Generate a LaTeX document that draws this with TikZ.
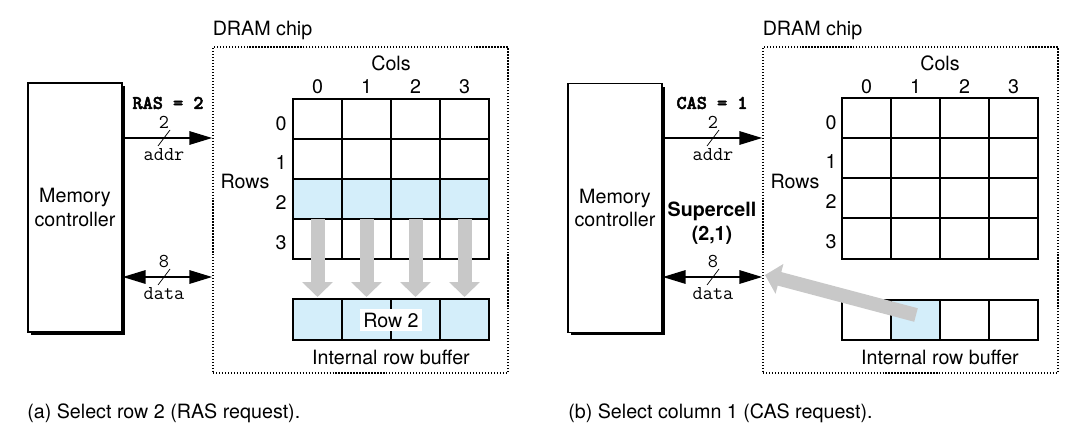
\documentclass[tikz,border=0pt]{standalone}
\usepackage{fontspec}
\setmainfont{TeX Gyre Heros}
\newfontfamily\rastt{lmmonolt10-bold.otf}[FakeBold=2.5]
\usetikzlibrary{arrows.meta,positioning,shadows}
\definecolor{cellblue}{RGB}{212,238,250}
\definecolor{movegray}{RGB}{200,200,200}

\tikzset{
  ctrl/.style={draw, line width=0.6pt, fill=white, align=center,
    minimum width=1.88cm, minimum height=4.98cm,
    drop shadow={shadow xshift=0.06cm, shadow yshift=-0.06cm, opacity=1, fill=black}},
  chipbox/.style={draw, densely dotted, line width=0.7pt,
    minimum width=5.9cm, minimum height=6.52cm},
  bus/.style={line width=1.7pt, -{Triangle[length=0.46cm,width=0.26cm]}},
  dbus/.style={line width=1.7pt, {Triangle[length=0.46cm,width=0.26cm]}-{Triangle[length=0.46cm,width=0.26cm]}},
  buslbl/.style={font=\fontsize{11.2}{13}\ttfamily, inner sep=1pt},
  reqlbl/.style={font=\fontsize{11}{13}\rastt},
  moveline/.style={movegray, line width=0.28cm, -{Triangle[length=0.3cm,width=0.6cm]}},
  gridline/.style={line width=0.6pt},
  gridframe/.style={line width=1.3pt}
}

\begin{document}
\begin{tikzpicture}[x=0.02cm, y=-0.02cm, font=\fontsize{11.2}{13.4}\selectfont]
  \useasboundingbox (0,0) rectangle (1089,439);

  %%% (a) row access
  \node[ctrl] (mcA) at (75,207.5) {Memory\\controller};
  \node[chipbox] (dramA) at (360.5,210) {};
  \node[anchor=south west, inner xsep=0pt] (chipA) at (dramA.north west) {DRAM chip};

  % address and data buses
  \coordinate (addrA) at (164,138);
  \coordinate (dataA) at (164,277);
  \draw[bus] (mcA.east |- addrA) -- (dramA.west |- addrA);
  \draw[dbus] (mcA.east |- dataA) -- (dramA.west |- dataA);
  \draw[thin] (addrA) ++(-6,8) -- ++(12,-16);
  \draw[thin] (dataA) ++(-6,8) -- ++(12,-16);
  \node[buslbl, above=4pt of addrA] (wA) {2};
  \node[buslbl, below=4.5pt of addrA] (anA) {addr};
  \node[buslbl, above=4pt of dataA] (dwA) {8};
  \node[buslbl, below=4.5pt of dataA] (dnA) {data};
  \node[reqlbl] (rasA) at (168,103) {RAS = 2};

  % cell array, row 2 selected
  \fill[cellblue] (293,179) rectangle (489,219);
  \foreach \x in {342,391,440} \draw[gridline] (\x,99) -- (\x,259);
  \foreach \y in {139,179,219} \draw[gridline] (293,\y) -- (489,\y);
  \draw[gridframe] (293,99) rectangle (489,259);
  \node (colsA) at (391,63) {Cols};
  \foreach \c/\x in {0/317.5,1/366.5,2/415.5,3/464.5}
    \node (cA\c) at (\x,87) {\c};
  \foreach \r/\y in {0/124,1/163,2/203,3/243}
    \node (rA\r) at (281,\y) {\r};
  \node (rowsA) at (245,181) {Rows};

  % row copied into the buffer
  \fill[cellblue] (293,299) rectangle (489,340);
  \foreach \x in {342,391,440} \draw[gridline] (\x,299) -- (\x,340);
  \draw[gridframe] (293,299) rectangle (489,340);
  \node[fill=white, inner sep=2pt] (bufA) at (391,320) {Row 2};
  \node (ibufA) at (391,357) {Internal row buffer};
  \foreach \x in {317.5,366.5,415.5,464.5}
    \draw[moveline] (\x,219) -- (\x,297);

  \node[anchor=west, inner xsep=0pt] (capA) at (27,413) {(a) Select row 2 (RAS request).};

  %%% (b) column access
  \node[ctrl] (mcB) at (615,208) {Memory\\controller};
  \node[chipbox] (dramB) at (910.5,210) {};
  \node[anchor=south west, inner xsep=0pt] (chipB) at (dramB.north west) {DRAM chip};

  % address and data buses
  \coordinate (addrB) at (713,138);
  \coordinate (dataB) at (713,277);
  \draw[bus] (mcB.east |- addrB) -- (dramB.west |- addrB);
  \draw[dbus] (mcB.east |- dataB) -- (dramB.west |- dataB);
  \draw[thin] (addrB) ++(-6,8) -- ++(12,-16);
  \draw[thin] (dataB) ++(-6,8) -- ++(12,-16);
  \node[buslbl, above=4pt of addrB] (wB) {2};
  \node[buslbl, below=4.5pt of addrB] (anB) {addr};
  \node[buslbl, above=4pt of dataB] (dwB) {8};
  \node[buslbl, below=4.5pt of dataB] (dnB) {data};
  \node[reqlbl] (casB) at (712,103) {CAS = 1};
  \node[font=\fontsize{11.2}{13.4}\selectfont\bfseries, align=center] (superB) at (712,223) {Supercell\\(2,1)};

  % cell array
  \foreach \x in {891,940,989} \draw[gridline] (\x,98) -- (\x,259);
  \foreach \y in {138,178,218} \draw[gridline] (842,\y) -- (1038,\y);
  \draw[gridframe] (842,98) rectangle (1038,259);
  \node (colsB) at (940,63) {Cols};
  \foreach \c/\x in {0/866.5,1/915.5,2/964.5,3/1013.5}
    \node (cB\c) at (\x,87) {\c};
  \foreach \r/\y in {0/123,1/162,2/202,3/242}
    \node (rB\r) at (831,\y) {\r};
  \node (rowsB) at (795,181) {Rows};

  % row buffer, supercell sent out
  \fill[cellblue] (891,300) rectangle (940,340);
  \foreach \x in {891,940,989} \draw[gridline] (\x,300) -- (\x,340);
  \draw[gridframe] (842,300) rectangle (1038,340);
  \node (ibufB) at (940,357) {Internal row buffer};
  \coordinate (cellB) at (916,315);
  \coordinate (outB) at (765,275);
  \draw[moveline] (cellB) -- (outB);

  \node[anchor=west, inner xsep=0pt] (capB) at (568,413) {(b) Select column 1 (CAS request).};
\end{tikzpicture}
\end{document}
